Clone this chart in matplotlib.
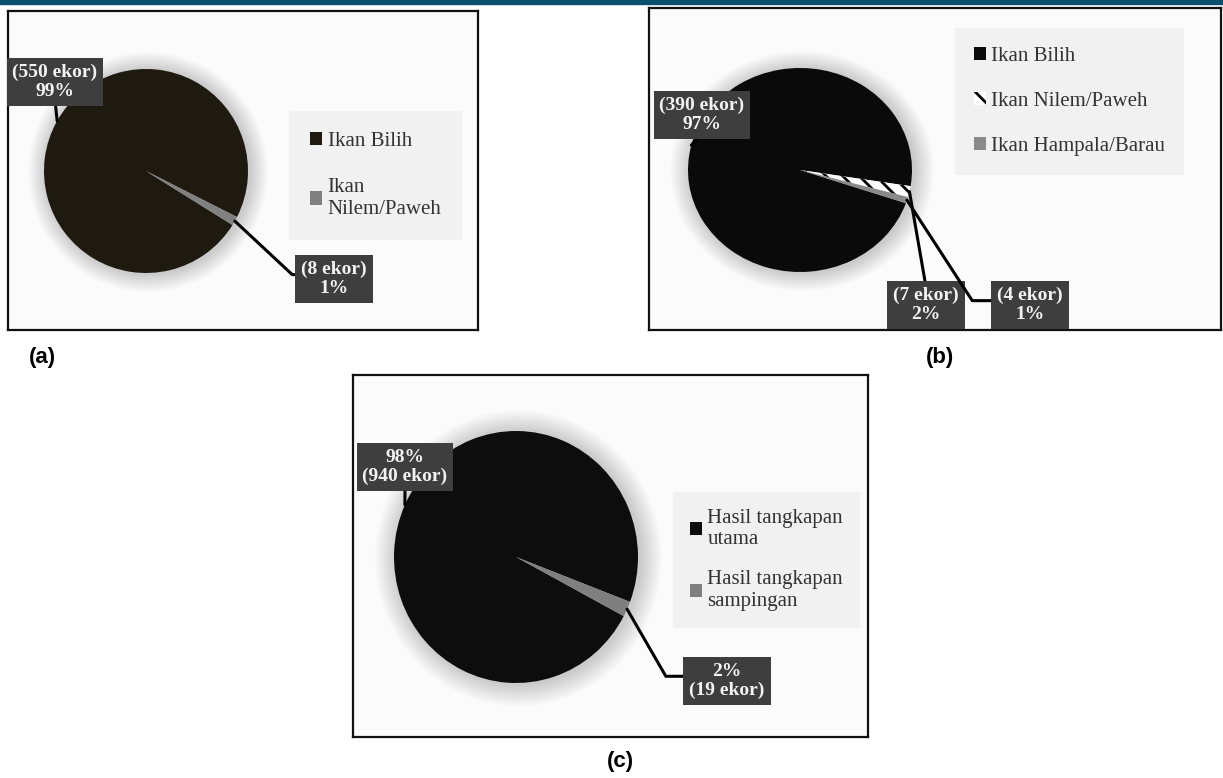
import numpy as np
import matplotlib
matplotlib.use('Agg')
import matplotlib.pyplot as plt
from matplotlib.patches import Rectangle, Ellipse

# catch counts per species / category
names_a = ['Ikan Bilih', 'Ikan\nNilem/Paweh']
counts_a = [550, 8]

names_b = ['Ikan Bilih', 'Ikan Nilem/Paweh', 'Ikan Hampala/Barau']
counts_b = [390, 7, 4]

names_c = ['Hasil tangkapan\nutama', 'Hasil tangkapan\nsampingan']
counts_c = [940, 19]

W, H = 1223, 778
fig = plt.figure(figsize=(W / 100, H / 100), dpi=100)
fig.patch.set_facecolor('white')
serif = 'Liberation Serif'
plt.rcParams['hatch.linewidth'] = 2.0


def rect(x0, y0, x1, y1):
    # pixel box measured from the top-left corner -> figure fraction
    return [x0 / W, 1 - y1 / H, (x1 - x0) / W, (y1 - y0) / H]


def frame(x0, y0, x1, y1):
    ax = fig.add_axes(rect(x0, y0, x1, y1), zorder=0)
    ax.set_facecolor('#fbfbfb')
    ax.set_xticks([])
    ax.set_yticks([])
    for s in ax.spines.values():
        s.set_linewidth(1.6)
        s.set_color('#111111')
    return ax


def pie_axes(cx, cy, rx, ry):
    ax = fig.add_axes(rect(cx - rx, cy - ry, cx + rx, cy + ry), zorder=2)
    # soft shadow behind the pie
    for k in range(16):
        d = 0.011 * (k + 1)
        ax.add_patch(Ellipse((0.02, -0.01), 2 * (1 + d), 2 * (1 + d),
                             color='black', alpha=0.012, lw=0, clip_on=False))
    return ax


def finish(ax):
    ax.set_xlim(-1, 1)
    ax.set_ylim(-1, 1)
    ax.set_aspect('auto')
    ax.axis('off')


def edge(w):
    a = np.deg2rad((w.theta1 + w.theta2) / 2)
    return np.cos(a), np.sin(a)


def label(ax, w, text, xy_box, relpos, conn='arc3'):
    ax.annotate(text, xy=edge(w), xytext=(xy_box[0], H - xy_box[1]),
                textcoords='figure pixels', ha='center', va='center',
                fontsize=14, family=serif, weight='bold', color='#f2f2f2',
                linespacing=1.15, annotation_clip=False,
                bbox=dict(boxstyle='square,pad=0.3', fc='#3e3e3e', ec='none'),
                arrowprops=dict(arrowstyle='-', color='black', lw=2.2,
                                shrinkA=0, shrinkB=0, relpos=relpos,
                                connectionstyle=conn))


def legend(ax, wedges, names, x, y, spacing, pad=0.9):
    lg = ax.legend(wedges, names, loc='upper left',
                   bbox_to_anchor=(x / W, 1 - y / H),
                   bbox_transform=fig.transFigure,
                   prop={'family': serif, 'size': 15},
                   labelcolor='#333333', frameon=True, fancybox=False,
                   facecolor='#f1f1f1', edgecolor='none', framealpha=1,
                   handlelength=0.6, handleheight=0.6, handletextpad=0.25,
                   labelspacing=spacing, borderpad=pad, borderaxespad=0)
    return lg


def pct(n, tot):
    return int(round(100 * n / tot))


# top rule
fig.patches.append(Rectangle((0, 1 - 4 / H), 1, 4 / H, transform=fig.transFigure,
                             color='#0b4f6c', zorder=5))

# ---------------- (a) ----------------
frame(8, 11, 478, 330)
ax = pie_axes(146, 171, 102, 102)
tot = sum(counts_a)
wa, _ = ax.pie(counts_a, colors=['#1e1a10', '#808080'], startangle=-32,
               counterclock=False, radius=1,
               wedgeprops=dict(linewidth=0, clip_on=False))
finish(ax)
label(ax, wa[0], f'({counts_a[0]} ekor)\n{pct(counts_a[0], tot)}%', (55, 82), (0.5, 0))
label(ax, wa[1], f'({counts_a[1]} ekor)\n{pct(counts_a[1], tot)}%', (334, 279), (0, 0.62),
      'angle,angleA=0,angleB=-43,rad=0')
legend(ax, wa, names_a, 289, 111, 1.3, pad=1.0)

# ---------------- (b) ----------------
frame(649, 8, 1221, 330)
ax = pie_axes(800, 170, 112, 102)
tot = sum(counts_b)
wb, _ = ax.pie(counts_b, colors=['#0a0a0a', 'white', '#8a8a8a'], startangle=-19,
               counterclock=False, radius=1,
               wedgeprops=dict(linewidth=0, clip_on=False))
wb[1].set_hatch('\\\\')
wb[1].set_edgecolor('black')
finish(ax)
label(ax, wb[0], f'({counts_b[0]} ekor)\n{pct(counts_b[0], tot)}%', (702, 115), (0.5, 0))
label(ax, wb[1], f'({counts_b[1]} ekor)\n{pct(counts_b[1], tot)}%', (926, 305), (0.5, 1))
label(ax, wb[2], f'({counts_b[2]} ekor)\n{pct(counts_b[2], tot)}%', (1030, 305), (0, 0.62),
      'angle,angleA=0,angleB=-57,rad=0')
legend(ax, wb, names_b, 955, 28, 1.25, pad=0.9)

# ---------------- (c) ----------------
frame(353, 375, 868, 737)
ax = pie_axes(516, 557, 122, 126)
tot = sum(counts_c)
wc, _ = ax.pie(counts_c, colors=['#0d0d0d', '#7f7f7f'], startangle=-28,
               counterclock=False, radius=1,
               wedgeprops=dict(linewidth=0, clip_on=False))
finish(ax)
label(ax, wc[0], f'{pct(counts_c[0], tot)}%\n({counts_c[0]} ekor)', (405, 467), (0.5, 0))
label(ax, wc[1], f'{pct(counts_c[1], tot)}%\n({counts_c[1]} ekor)', (727, 681), (0, 0.63),
      'angle,angleA=0,angleB=-60,rad=0')
legend(ax, wc, names_c, 673, 492, 1.0, pad=0.8)

# panel letters
for t, x, y in [('(a)', 42, 357), ('(b)', 940, 357), ('(c)', 620, 762)]:
    fig.text(x / W, 1 - y / H, t, ha='center', va='center', fontsize=16,
             family='Liberation Sans', weight='bold', color='black')

fig.savefig('out.png', dpi=100)
